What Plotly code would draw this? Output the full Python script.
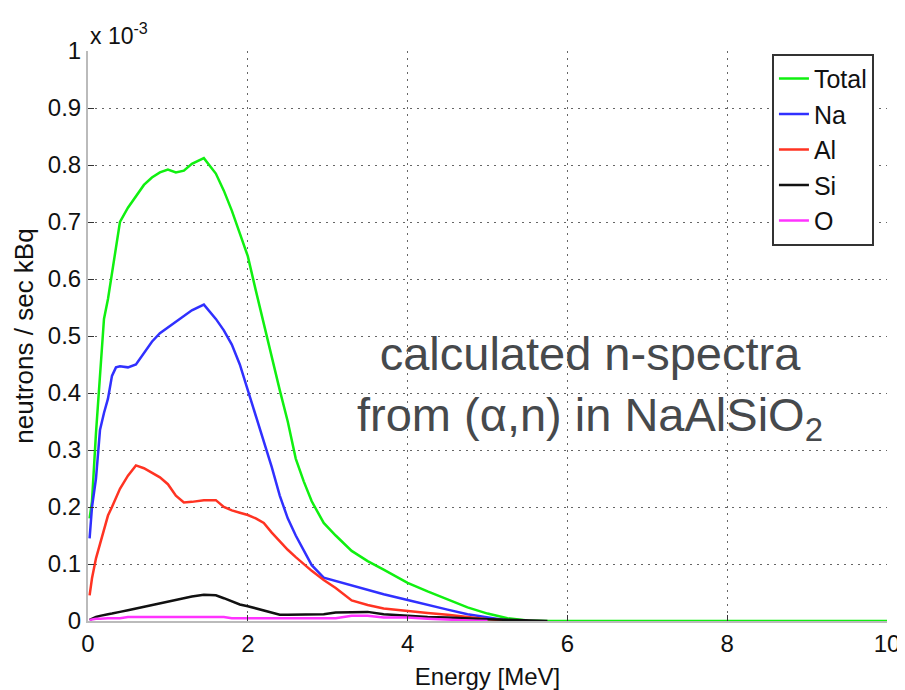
import plotly.graph_objects as go

# Energy grid [MeV]
energy = [0.02, 0.05, 0.1, 0.15, 0.2, 0.25, 0.3, 0.35, 0.4, 0.5, 0.6, 0.7, 0.8, 0.9,
          1.0, 1.1, 1.2, 1.3, 1.45, 1.6, 1.7, 1.8, 1.9, 2.0, 2.1, 2.2, 2.3, 2.4, 2.5,
          2.6, 2.7, 2.8, 2.95, 3.1, 3.3, 3.5, 3.7, 4.0, 4.25, 4.5, 4.75, 5.0, 5.25,
          5.5, 5.75, 10.0]

# neutrons / sec kBq, in units of 1e-3
total = [0.18, 0.21, 0.33, 0.44, 0.53, 0.565, 0.61, 0.655, 0.70, 0.725, 0.745, 0.765,
         0.778, 0.787, 0.792, 0.787, 0.79, 0.802, 0.812, 0.785, 0.755, 0.72, 0.68,
         0.64, 0.58, 0.52, 0.46, 0.405, 0.35, 0.285, 0.245, 0.21, 0.172, 0.15, 0.123,
         0.105, 0.09, 0.067, 0.052, 0.038, 0.024, 0.013, 0.005, 0.001, 0.0, 0.0]
na = [0.145, 0.2, 0.25, 0.335, 0.365, 0.39, 0.43, 0.445, 0.447, 0.445, 0.45, 0.47,
      0.49, 0.505, 0.515, 0.525, 0.535, 0.545, 0.555, 0.53, 0.51, 0.485, 0.45, 0.405,
      0.36, 0.315, 0.27, 0.22, 0.18, 0.15, 0.125, 0.098, 0.076, 0.07, 0.062, 0.054,
      0.047, 0.037, 0.028, 0.02, 0.012, 0.006, 0.001, 0.0, None, None]
al = [0.045, 0.075, 0.11, 0.135, 0.16, 0.185, 0.2, 0.215, 0.232, 0.255, 0.273, 0.268,
      0.26, 0.252, 0.24, 0.22, 0.208, 0.209, 0.212, 0.212, 0.2, 0.194, 0.19, 0.186,
      0.18, 0.172, 0.155, 0.14, 0.125, 0.112, 0.1, 0.088, 0.072, 0.058, 0.036, 0.028,
      0.022, 0.017, 0.014, 0.011, 0.007, 0.003, 0.001, 0.0, None, None]
si = [0.002, 0.004, 0.007, 0.009, 0.011, 0.012, 0.013, 0.015, 0.016, 0.019, 0.022,
      0.025, 0.028, 0.031, 0.034, 0.037, 0.04, 0.043, 0.046, 0.045, 0.04, 0.034, 0.029,
      0.026, 0.022, 0.018, 0.014, 0.011, 0.011, 0.011, 0.011, 0.012, 0.012, 0.015,
      0.016, 0.016, 0.012, 0.009, 0.007, 0.006, 0.004, 0.003, 0.002, 0.001, 0.0, None]
o = [0.002, 0.003, 0.004, 0.004, 0.005, 0.005, 0.005, 0.005, 0.005, 0.007, 0.007,
     0.007, 0.007, 0.007, 0.007, 0.007, 0.007, 0.007, 0.007, 0.007, 0.007, 0.005,
     0.005, 0.005, 0.005, 0.005, 0.005, 0.005, 0.005, 0.005, 0.005, 0.005, 0.005,
     0.005, 0.009, 0.009, 0.006, 0.006, 0.004, 0.002, 0.001, 0.0, None, None, None, None]

series = [("Total", total, "#10f010"), ("Na", na, "#3030ff"), ("Al", al, "#ff3322"),
          ("Si", si, "#111111"), ("O", o, "#ff33ff")]

x_ticks = [0, 2, 4, 6, 8, 10]
y_ticks = [0, 0.1, 0.2, 0.3, 0.4, 0.5, 0.6, 0.7, 0.8, 0.9, 1.0]
y_ticktext = ["0", "0.1", "0.2", "0.3", "0.4", "0.5", "0.6", "0.7", "0.8", "0.9", "1"]

fig = go.Figure()
for name, vals, col in series:
    fig.add_trace(go.Scatter(x=energy, y=vals, mode="lines", name=name,
                             line=dict(color=col, width=2.5), connectgaps=False))

FONT = "Liberation Sans, Arial, Helvetica, sans-serif"

# page body has an 8px margin, so the figure is sized to fit the 905x690 window
fig.update_layout(
    width=897, height=682,
    margin=dict(l=80, r=18, t=43, b=69),
    paper_bgcolor="white", plot_bgcolor="white",
    font=dict(family=FONT, size=24, color="#111"),
    showlegend=True,
    legend=dict(x=0.856, y=0.995, xanchor="left", yanchor="top",
                bgcolor="white", bordercolor="#333", borderwidth=2,
                font=dict(size=25, color="#111"), tracegroupgap=0),
    xaxis=dict(range=[0, 10], tickvals=x_ticks, ticks="inside", ticklen=6,
               tickcolor="#333", showline=True, linecolor="#bbbbbb", linewidth=2,
               showgrid=True, gridcolor="#666", griddash="2px,5px", gridwidth=1,
               zeroline=False, tickfont=dict(size=24), automargin=False,
               title=dict(text="Energy [MeV]", font=dict(size=24), standoff=12)),
    yaxis=dict(range=[0, 1.0], tickvals=y_ticks, ticktext=y_ticktext, ticks="inside",
               ticklen=6, tickcolor="#333", showline=True, linecolor="#bbbbbb",
               linewidth=2, showgrid=True, gridcolor="#666", griddash="2px,5px",
               gridwidth=1, zeroline=False, tickfont=dict(size=24), automargin=False,
               title=dict(text="neutrons / sec kBq", font=dict(size=26), standoff=7)),
    annotations=[
        dict(xref="paper", yref="paper", x=0, y=1.0, xanchor="left", yanchor="bottom",
             text="x 10<sup>-3</sup>", showarrow=False, font=dict(size=23, color="#111")),
        dict(xref="x", yref="y", x=6.28, y=0.41, xanchor="center", yanchor="middle",
             text="calculated n-spectra<br>from (α,n) in NaAlSiO<sub>2</sub>",
             showarrow=False, align="center",
             font=dict(size=47, color="#46494c", family=FONT)),
    ],
)

fig.write_html("out.html")
